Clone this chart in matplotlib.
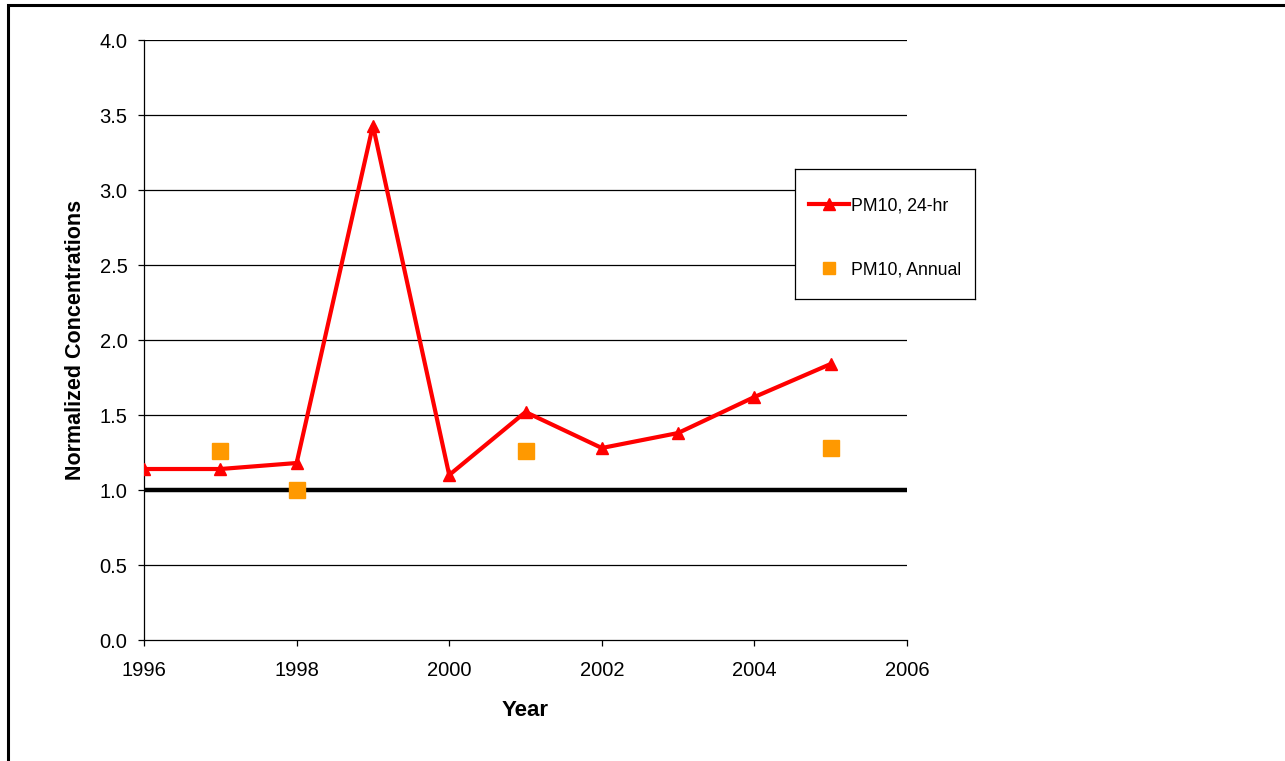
import matplotlib.pyplot as plt
from matplotlib.lines import Line2D
from matplotlib.patches import Rectangle

plt.rcParams['font.family'] = ['Liberation Sans', 'DejaVu Sans']

# 24-hr and annual PM10, normalised to the standard
years_24hr = [1996, 1997, 1998, 1999, 2000, 2001, 2002, 2003, 2004, 2005]
pm10_24hr = [1.14, 1.14, 1.18, 3.43, 1.10, 1.52, 1.28, 1.38, 1.62, 1.84]

years_annual = [1997, 1998, 2001, 2005]
pm10_annual = [1.26, 1.00, 1.26, 1.28]

standard_years = [1996, 2006]
standard_level = [1.0, 1.0]

y_ticks = [0.0, 0.5, 1.0, 1.5, 2.0, 2.5, 3.0, 3.5, 4.0]
x_ticks = [1996, 1998, 2000, 2002, 2004, 2006]

fig = plt.figure(figsize=(12.85, 7.61), dpi=100)
ax = fig.add_axes([0.1121, 0.159, 0.5937, 0.7884])

for y in y_ticks[1:]:
    ax.axhline(y, color='black', lw=0.9, zorder=1)

ax.plot(standard_years, standard_level, color='black', lw=3.2, zorder=2)
line, = ax.plot(years_24hr, pm10_24hr, color='#FF0000', lw=3, marker='^',
                markersize=9, zorder=3, label='PM10, 24-hr')
ax.plot(years_annual, pm10_annual, ls='none', marker='s', markersize=12,
        color='#FF9900', zorder=4)

ax.set_xlim(1996, 2006)
ax.set_ylim(0, 4)
ax.set_xticks(x_ticks)
ax.set_yticks(y_ticks)
ax.set_yticklabels([f'{v:.1f}' for v in y_ticks])
ax.tick_params(labelsize=14.5, length=4.3, width=0.9, direction='out')
ax.tick_params(axis='x', pad=10.5)
ax.tick_params(axis='y', pad=7.6)

for side in ['top', 'right']:
    ax.spines[side].set_visible(False)
for side in ['left', 'bottom']:
    ax.spines[side].set_linewidth(0.9)

ax.set_xlabel('Year', fontsize=16, fontweight='bold', labelpad=14.5)
ax.set_ylabel('Normalized Concentrations', fontsize=15.5, fontweight='bold', labelpad=10)

# legend sits in its own framed box to the right of the plot
lax = fig.add_axes([795 / 1285, 1 - 299 / 761, 180 / 1285, 130 / 761])
lax.set_xticks([])
lax.set_yticks([])
for sp in lax.spines.values():
    sp.set_linewidth(0.9)
    sp.set_edgecolor('black')
annual_handle = Line2D([], [], ls='none', marker='s', markersize=8.5,
                       color='#FF9900', label='PM10, Annual')
lax.legend(handles=[line, annual_handle], loc='center', frameon=False,
           fontsize=12.7, labelspacing=2.65, handlelength=2.3,
           handletextpad=0.1, borderpad=0, borderaxespad=0, numpoints=1,
           bbox_to_anchor=(0.5, 0.47))

# outer chart border
fig.patches.append(Rectangle((8 / 1285, -0.05), 1.1, 1 - 5 / 761 + 0.05,
                             transform=fig.transFigure, fill=False,
                             edgecolor='black', lw=2.2))

fig.savefig('out.png', dpi=100)
